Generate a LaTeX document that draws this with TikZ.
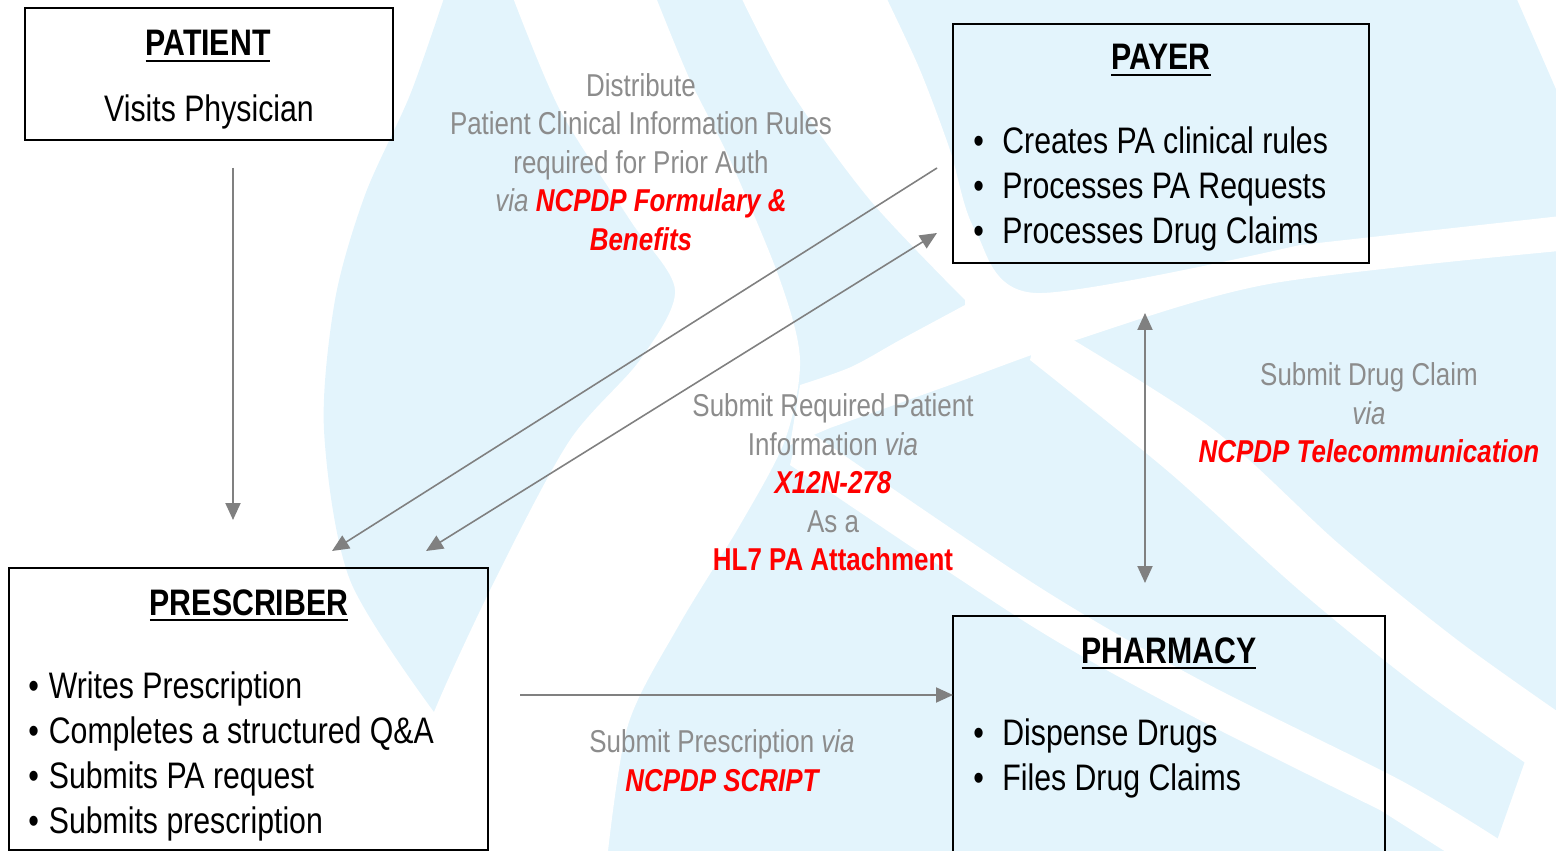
\documentclass[tikz,border=0pt]{standalone}
\usepackage{fontspec}
\setmainfont[FakeStretch=0.82]{Liberation Sans}
\usetikzlibrary{arrows.meta}
\definecolor{globeblue}{HTML}{E3F4FC}
\definecolor{notegray}{HTML}{8C8C8C}
\definecolor{stdred}{HTML}{FF0000}
\definecolor{flowgray}{HTML}{808080}
\newcommand{\hdr}[1]{\setbox0=\hbox{#1}\rlap{\raisebox{-3.6pt}{\rule{\wd0}{1.1pt}}}\box0}
\newcommand{\std}[1]{\textcolor{stdred}{\bfseries\itshape #1}}
\newcommand{\pitem}{\makebox[0.58cm][l]{•}}
\newcommand{\sitem}{\makebox[0.41cm][l]{•}}

\begin{document}
\begin{tikzpicture}[x=0.02cm,y=-0.02cm,>={Triangle[length=0.34cm,width=0.3cm]}]
			\tikzstyle{party}=[draw=black,line width=1.1pt,inner sep=0pt]
			\tikzstyle{title}=[font=\fontsize{21}{25}\selectfont\bfseries,anchor=base,inner sep=0pt]
			\tikzstyle{items}=[font=\fontsize{21}{25.6}\selectfont,align=left,anchor=north west,inner sep=0pt]
			\tikzstyle{note}=[font=\fontsize{18}{21.9}\selectfont,text=notegray,align=center,inner sep=0pt]
			\tikzstyle{flow}=[draw=flowgray,fill=flowgray,line width=1.1pt]
			\useasboundingbox (0,0) rectangle (1556,851);

			% watermark globe
			\begin{scope}
			\clip (0,0) rectangle (1556,851);
			\fill[globeblue] plot[smooth] coordinates {(434,712) (350,580) (324,430) (335,300) (365,195) (410,95) (445,-5)}
			  -- (1515,-5) -- (1565,110) -- (1570,700) -- (1525,761) -- (1490,860) -- (500,860) -- cycle;
			\fill[white] plot[smooth] coordinates {(512,-5) (560,110) (630,220) (675,290) (640,360) (570,440) (500,570) (434,712) (380,860)}
			  -- plot[smooth] coordinates {(607,860) (628,725) (679,625) (740,525) (785,440) (800,360) (780,280) (730,160) (690,80) (655,-5)} -- cycle;
			\fill[white] plot[smooth] coordinates {(740,-5) (790,90) (870,200) (965,300)}
			  -- plot[smooth] coordinates {(965,305) (900,340) (851,367) (800,385)}
			  -- (790,445) -- plot[smooth] coordinates {(830,428) (950,385) (1073,341) (1269,284) (1570,250)}
			  -- (1570,215) -- plot[smooth] coordinates {(1300,245) (1036,293) (975,230) (950,150) (920,70) (885,-5)} -- cycle;
			\fill[white] plot[smooth] coordinates {(1040,320) (1210,427) (1339,544) (1460,642) (1590,734)}
			  -- (1590,800) -- plot[smooth] coordinates {(1550,780) (1420,688) (1299,590) (1170,473) (1030,360)} -- cycle;
			\fill[white] plot[smooth] coordinates {(800,425) (1036,585) (1200,680) (1400,780) (1500,840)}
			  -- (1490,880) -- plot[smooth] coordinates {(1380,810) (1190,715) (1030,625) (790,465)} -- cycle;
			\end{scope}

			% boxes
			\node[party,minimum width=7.36cm,minimum height=2.64cm] (patient) at (209,74) {};
			\node[party,minimum width=8.32cm,minimum height=4.78cm] (payer) at (1161,143.5) {};
			\node[party,minimum width=9.58cm,minimum height=5.64cm] (prescriber) at (248.5,709) {};
			\node[party,minimum width=8.64cm,minimum height=5.08cm] (pharmacy) at (1169,743) {};

			\node[title] (patient-t) at (208,56) {\hdr{PATIENT}};
			\node[title,font=\fontsize{21}{25}\selectfont] (patient-v) at (209,122) {Visits Physician};
			\node[title] (payer-t) at (1161,70) {\hdr{PAYER}};
			\node[items] (payer-l) at (973,126.4) {\pitem Creates PA clinical rules\\\pitem Processes PA Requests\\\pitem Processes Drug Claims};
			\node[title] (prescriber-t) at (249,615) {\hdr{PRESCRIBER}};
			\node[items] (prescriber-l) at (28,671.4) {\sitem Writes Prescription\\\sitem Completes a structured Q\&A\\\sitem Submits PA request\\\sitem Submits prescription};
			\node[title] (pharmacy-t) at (1169,663) {\hdr{PHARMACY}};
			\node[items] (pharmacy-l) at (973,718.4) {\pitem Dispense Drugs\\\pitem Files Drug Claims};

			% message labels
			\node[note] (rules-n) at (641,161.8) {Distribute\\Patient Clinical Information Rules\\required for Prior Auth\\\textit{via} \std{NCPDP Formulary \&}\\\std{Benefits}};
			\node[note] (attach-n) at (833,482.3) {Submit Required Patient\\Information \textit{via}\\\std{X12N-278}\\As a\\\textcolor{stdred}{\bfseries HL7 PA Attachment}};
			\node[note] (claim-n) at (1369,412.8) {Submit Drug Claim\\\textit{via}\\\std{NCPDP Telecommunication}};
			\node[note] (script-n) at (722,760.8) {Submit Prescription \textit{via}\\\std{NCPDP SCRIPT}};

			% connector ends
			\coordinate (patient-o) at (233,168);
			\coordinate (prescriber-i) at (233,520);
			\coordinate (payer-o) at (937,168);
			\coordinate (prescriber-r) at (332,551);
			\coordinate (payer-i) at (937,233);
			\coordinate (prescriber-s) at (426,551);
			\coordinate (payer-b) at (1145,313);
			\coordinate (pharmacy-a) at (1145,583);
			\coordinate (prescriber-o) at (520,695);
			\coordinate (pharmacy-i) at (953,695);

			\draw[flow,->] (patient-o) -- (prescriber-i);
			\draw[flow,->,line width=0.9pt] (payer-o) -- (prescriber-r);
			\draw[flow,<->,line width=0.9pt] (prescriber-s) -- (payer-i);
			\draw[flow,<->] (payer-b) -- (pharmacy-a);
			\draw[flow,->] (prescriber-o) -- (pharmacy-i);
\end{tikzpicture}
\end{document}
